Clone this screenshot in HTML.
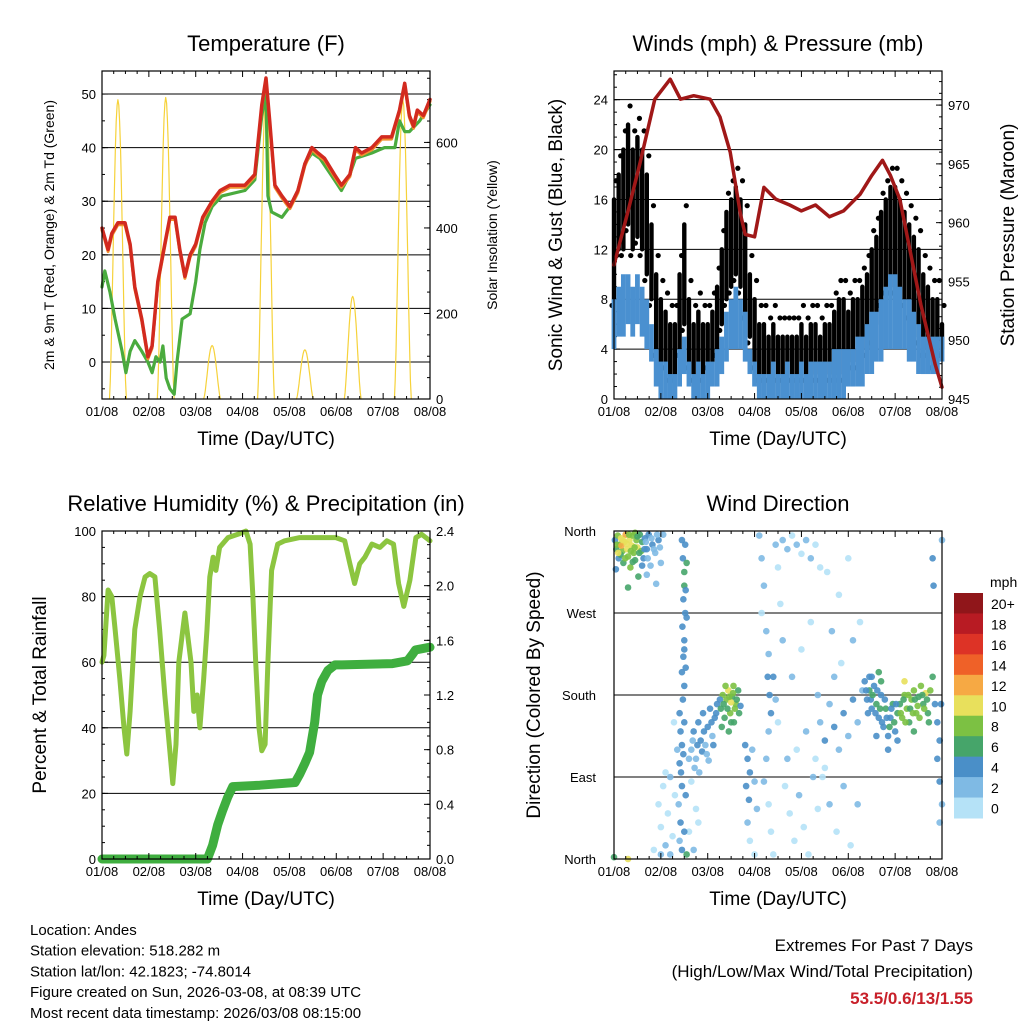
<!DOCTYPE html>
<html><head><meta charset="utf-8"><style>
body{margin:0;background:#fff}
svg text{font-family:"Liberation Sans",Arial,sans-serif;fill:#000}
</style></head><body>
<svg id="s" width="1024" height="1024" xmlns="http://www.w3.org/2000/svg"></svg>
<script>
// ---------- DATA ----------
const dayTicks=['01/08','02/08','03/08','04/08','05/08','06/08','07/08','08/08'];
const tempT=[0,0.13,0.21,0.34,0.49,0.6,0.7,0.85,0.98,1.07,1.19,1.34,1.45,1.56,1.66,1.77,1.88,2.0,2.15,2.35,2.52,2.73,3.05,3.26,3.41,3.5,3.58,3.69,3.84,4.01,4.18,4.33,4.48,4.61,4.75,4.96,5.11,5.29,5.41,5.54,5.76,5.97,6.18,6.35,6.46,6.56,6.65,6.73,6.86,7.0];
const tempRed=[25,21,24,26,26,22,14,8,1,3,15,22,27,27,21,16,20,22,27,30,32,33,33,35,48,53,45,33,31,29,32,37,40,39,38,35,33,35,40,39,40,42,42,47,52,46,44,47,46,49];
const dewT=[0,0.06,0.17,0.28,0.43,0.51,0.6,0.7,0.85,0.98,1.07,1.15,1.24,1.3,1.37,1.45,1.54,1.6,1.71,1.88,2.0,2.09,2.2,2.35,2.56,3.05,3.26,3.41,3.5,3.54,3.62,3.84,4.01,4.18,4.33,4.48,4.65,4.96,5.11,5.29,5.41,5.76,6.03,6.25,6.35,6.46,6.56,6.78,7.0];
const dewVal=[14,17,13,8,2,-2,2,4,2,0,-2,1,0,3,-3,-5,-6,0,8,9,15,21,26,29,31,32,34,46,50,31,28,27,29,32,37,39,38,34,32,35,38,39,40,40,45,43,43,45,48];
const solarPeakT=[0.34,1.36,2.35,3.5,4.33,5.35,6.42];
const solarPeak=[700,705,125,720,115,240,700];
const gustLo=[8,12,12,14,12,13,12,10,8,4,3,3,2,2,4,6,3,2,2,2,3,3,4,6,8,9,10,9,7,5,3,2,2,2,2,2,2,2,2,2,2,2,2,2,2,2,2,2,2,2,3,3,3,4,4,5,6,8,9,9,9,8,8,7,6,5,4,4,3,3,4];
const gustHi=[16,18,20,22,20,21,20,18,14,10,8,7,6,6,10,14,8,6,7,6,6,7,9,12,15,16,17,16,14,10,8,6,6,5,6,5,5,5,5,5,6,5,6,6,5,6,6,7,8,8,7,8,8,9,10,12,13,15,16,17,17,16,15,14,13,12,10,9,8,8,6];
const spdLo=[4,5,5,6,5,6,5,4,3,1,0,0,0,0,1,2,1,0,0,0,0,1,1,2,3,4,4,4,3,2,1,0,0,0,0,0,0,0,0,0,0,0,0,0,0,0,0,0,0,0,1,1,1,1,2,2,3,3,4,4,4,4,4,3,3,2,2,2,2,2,3];
const spdHi=[8,9,10,10,9,10,9,8,6,4,3,3,2,2,4,5,3,2,3,2,3,3,4,5,7,8,9,8,7,4,3,2,2,2,3,2,2,3,2,2,3,2,3,3,3,3,3,4,4,4,4,4,5,5,6,7,7,8,9,10,10,9,8,8,7,6,5,5,5,5,5];
const presT=[0,0.3,0.55,0.87,1.2,1.42,1.7,2.05,2.26,2.48,2.7,2.8,3.0,3.2,3.45,3.75,4.0,4.3,4.6,4.9,5.25,5.5,5.73,5.9,6.1,6.3,6.55,6.85,7.0];
const presVal=[956.4,961,965,970.5,972.2,970.5,970.8,970.5,969,966,960.7,959,958.8,963,962,961.5,961,961.5,960.5,961,962.4,964,965.3,964,962,958,953,948,946];
const rhT=[0,0.04,0.13,0.21,0.28,0.38,0.47,0.53,0.6,0.7,0.81,0.92,1.02,1.13,1.23,1.34,1.51,1.58,1.64,1.77,1.9,1.96,2.03,2.09,2.17,2.24,2.3,2.37,2.43,2.51,2.69,2.9,3.07,3.16,3.22,3.28,3.35,3.41,3.48,3.54,3.62,3.75,3.9,4.22,4.65,4.99,5.18,5.29,5.39,5.5,5.61,5.76,5.93,6.08,6.22,6.33,6.44,6.57,6.7,6.82,7.0];
const rhVal=[60,62,82,80,70,55,40,32,45,70,80,86,87,86,70,50,23,35,60,75,60,45,50,40,55,70,86,92,88,95,98,99,100,96,80,60,40,33,35,60,88,96,97,98,98,98,97,90,84,90,92,96,95,97,96,84,77,85,98,99,97];
const pcpT=[0,2.25,2.36,2.47,2.57,2.68,2.79,3.37,4.12,4.22,4.33,4.43,4.54,4.6,4.69,4.82,4.97,5.12,6.2,6.52,6.63,6.69,7.0];
const pcpVal=[0,0,0.1,0.25,0.35,0.45,0.53,0.54,0.56,0.62,0.7,0.78,1.0,1.2,1.3,1.38,1.42,1.42,1.43,1.45,1.5,1.53,1.55];
const windT=[0.02,0.05,0.08,0.1,0.12,0.15,0.18,0.2,0.22,0.25,0.28,0.3,0.33,0.35,0.38,0.4,0.42,0.45,0.48,0.5,0.52,0.55,0.58,0.6,0.63,0.66,0.7,0.74,0.78,0.82,0.88,0.95,1.0,1.05,0.3,0.04,0.9,0.7,0.14,0.45,
1.45,1.47,1.5,1.5,1.48,1.52,1.46,1.5,1.48,1.45,1.5,1.47,1.4,1.42,1.45,1.4,1.43,1.45,1.38,1.42,1.4,1.45,
0.95,1.0,1.05,1.1,1.15,1.2,1.25,1.3,1.0,1.1,1.6,1.7,1.75,1.65,1.8,1.55,1.2,0.85,1.35,1.28,
1.65,1.7,1.75,1.8,1.85,1.9,1.95,2.0,2.05,2.1,2.15,2.2,1.72,1.88,2.02,1.82,
2.28,2.32,2.36,2.4,2.44,2.48,2.52,2.56,2.6,2.65,2.3,2.45,2.55,2.7,2.5,
2.8,2.85,2.9,2.82,2.88,2.95,3.0,2.85,2.9,3.0,3.05,
3.1,3.15,3.2,3.15,3.25,3.3,3.28,3.32,3.35,3.3,3.25,3.2,3.3,3.35,3.4,3.45,3.5,3.4,3.45,3.5,
3.6,3.7,3.8,3.9,4.0,4.1,4.2,4.3,3.65,3.75,3.85,3.95,4.05,4.15,4.25,4.35,3.7,3.9,4.1,4.3,
4.4,4.5,4.6,4.7,4.8,4.9,5.0,5.1,5.2,5.3,4.45,4.6,4.75,4.9,5.05,5.2,4.55,4.8,5.0,4.65,
5.35,5.4,5.45,5.5,5.55,5.6,5.65,5.7,5.75,5.8,5.85,5.9,5.95,6.0,6.05,5.5,5.7,5.6,5.85,6.05,
6.1,6.15,6.2,6.25,6.3,6.35,6.4,6.45,6.5,6.55,6.6,6.65,6.7,6.2,6.4,
6.8,6.82,6.8,6.85,6.9,6.95,6.9,6.95,7.0,6.95,7.0,6.98,0.0,0.3];
const windDir=[350,340,355,330,345,352,338,325,348,356,340,332,350,320,344,355,336,328,350,342,310,356,338,348,330,352,340,356,322,345,336,350,325,356,298,318,302,312,334,358,
350,330,315,300,285,270,255,240,222,205,190,175,160,140,125,105,95,80,60,40,20,10,
60,35,80,15,50,5,25,70,5,95,30,10,55,85,40,5,90,10,120,150,
120,140,110,150,130,160,125,145,165,135,155,170,100,118,108,95,
165,180,155,175,185,160,178,150,170,185,145,140,190,168,172,
125,110,95,80,65,120,85,40,20,5,55,
355,330,300,270,250,225,200,180,160,140,110,85,60,30,5,345,320,200,175,150,
350,340,355,345,335,350,330,345,80,50,20,70,35,5,90,55,110,120,140,110,
150,130,170,145,120,160,135,175,150,185,90,60,30,80,15,60,315,290,330,250,
195,175,185,165,190,170,155,180,145,165,135,155,170,140,160,200,195,135,120,130,
170,155,180,165,150,175,185,160,178,190,170,182,160,195,140,
330,300,200,170,150,130,110,85,60,40,350,170,2,0];
const windSpd=[4,6,8,4,8,10,8,6,10,12,10,8,10,8,10,8,8,6,8,10,6,6,8,6,4,4,4,4,2,4,2,4,2,2,6,4,2,2,6,8,
4,4,6,6,4,4,4,4,4,4,4,4,4,4,4,4,4,4,2,4,2,4,
0,0,0,2,0,2,0,0,2,0,0,2,0,0,0,6,2,0,2,0,
2,4,2,4,4,4,2,4,4,2,4,4,2,4,2,2,
6,8,6,8,10,8,6,6,8,6,6,6,8,4,10,
4,4,4,4,4,2,2,2,0,0,2,
2,2,2,0,2,2,4,4,4,2,2,2,0,0,0,2,0,4,2,0,
2,2,0,2,0,2,2,0,0,0,0,2,0,0,2,0,2,0,2,0,
2,4,2,4,2,4,2,4,2,2,0,2,0,2,0,2,0,0,0,2,
4,4,6,4,4,6,4,4,4,6,4,4,6,4,6,4,6,4,4,4,
6,8,8,8,6,8,8,8,6,8,6,10,6,10,6,
4,4,6,4,4,4,4,4,2,2,2,4,6,10];
const windT2=[0.06,0.09,0.16,0.19,0.24,0.27,0.32,0.36,0.4,0.44,0.5,0.54,0.6,0.65,0.68,0.72,0.8,0.85,0.92,0.98,
1.52,1.55,1.53,1.55,1.5,1.53,1.5,1.48,1.53,1.5,
2.26,2.34,2.38,2.42,2.46,2.5,2.54,2.58,2.62,2.67,
1.68,1.78,1.92,1.98,2.08,2.12,2.18,1.6,
5.38,5.42,5.48,5.52,5.58,5.62,5.68,5.72,5.78,5.82,5.88,5.92,5.98,6.02,5.45,5.65,
6.12,6.18,6.22,6.28,6.32,6.38,6.42,6.48,6.52,6.58,6.62,6.68,6.72,6.75,
3.8,4.0,4.2,4.35,4.5,4.7,4.85,5.1,5.25,3.55,3.6,4.4];
const windDir2=[345,336,344,350,330,346,356,338,326,342,354,336,322,340,348,330,352,340,356,342,
345,325,295,265,230,210,150,115,70,30,
175,170,190,165,178,150,182,165,175,160,
130,125,140,115,150,125,160,110,
185,160,175,180,160,185,165,150,175,155,145,165,150,170,200,205,
160,175,150,180,165,160,175,168,155,180,165,175,150,185,
200,230,260,180,100,200,215,240,260,280,240,320];
const windSpd2=[8,10,12,10,8,10,8,8,6,8,6,6,4,4,2,2,2,2,2,2,
4,6,4,4,4,4,4,4,4,4,
4,6,8,6,8,6,8,8,6,6,
2,4,4,2,4,4,4,2,
4,4,4,6,4,4,6,4,4,4,6,4,6,4,4,6,
8,6,8,8,6,8,6,8,8,6,8,6,6,8,
2,0,0,2,0,2,0,2,0,0,2,0];
const speedLabels=['20+','18','16','14','12','10','8','6','4','2','0'];
// ---------- DRAWING ----------
const S=document.getElementById('s');const NS='http://www.w3.org/2000/svg';
function el(tag,at,parent){const e=document.createElementNS(NS,tag);for(const k in at)e.setAttribute(k,at[k]);(parent||S).appendChild(e);return e;}
function txt(x,y,s,size,anchor,rot,extra){const e=el('text',Object.assign({x:x,y:y,'font-size':size,'text-anchor':anchor||'middle'},extra||{}));if(rot)e.setAttribute('transform','rotate(-90 '+x+' '+y+')');e.textContent=s;return e;}
function line(x1,y1,x2,y2,c,w){return el('line',{x1:x1,y1:y1,x2:x2,y2:y2,stroke:c,'stroke-width':w});}
function poly(xs,ys,fx,fy,c,w,name){const p=el('polyline',{points:xs.map((v,i)=>fx(v).toFixed(1)+','+fy(ys[i]).toFixed(1)).join(' '),fill:'none',stroke:c,'stroke-width':w,'stroke-linejoin':'round','stroke-linecap':'round'});

return p;}
const W=328,H=328;
function frame(x0,y0,title,name){
 const g=el('rect',{x:x0,y:y0,width:W,height:H,fill:'none',stroke:'#000','stroke-width':1.2});
 
 
 const t=txt(x0+W/2,y0-20,title,22);
 
 
 dayTicks.forEach((d,i)=>{const x=x0+i*W/7;line(x,y0+H,x,y0+H-6,'#000',1);line(x,y0,x,y0+6,'#000',1);
  const l=txt(x,y0+H+17,d,13);
  
  
  if(i<7)for(let k=1;k<4;k++){const xm=x+k*W/28;line(xm,y0+H,xm,y0+H-3,'#000',1);line(xm,y0,xm,y0+3,'#000',1);}});
 const xt=txt(x0+W/2,y0+H+46,'Time (Day/UTC)',19);
 
 
}
function yaxis(x0,y0,min,max,ticks,fmt,side,grid,minor){
 const f=v=>y0+H-(v-min)/(max-min)*H;
 ticks.forEach(v=>{const y=f(v);if(grid&&y>y0+1&&y<y0+H-1)line(x0,y,x0+W,y,'#000',1);
  const xx=side==='l'?x0:x0+W;line(xx,y,side==='l'?xx+6:xx-6,y,'#000',1);
  const l=txt(side==='l'?xx-6:xx+6,y+5,fmt(v),13,side==='l'?'end':'start');
  
  });
 if(minor)minor.forEach(v=>{const y=f(v);if(y<y0||y>y0+H)return;const xx=side==='l'?x0:x0+W;line(xx,y,side==='l'?xx+3:xx-3,y,'#000',1);});
 return f;}
function rng(a,b,s){const r=[];for(let v=a;v<=b+1e-9;v+=s)r.push(+v.toFixed(3));return r;}
// Panel 1 Temperature
{const x0=102,y0=71;const fx=t=>x0+t*W/7;
 const fT=yaxis(x0,y0,-6.9,54.3,[0,10,20,30,40,50],v=>v,'l',true,rng(-5,50,5));
 const fS=yaxis(x0,y0,0,767,[0,200,400,600],v=>v,'r',false,rng(0,750,50));
 solarPeakT.forEach((c,i)=>{const xs=[],ys=[];for(let k=0;k<=20;k++){const t=c-0.18+k*0.018;xs.push(t);ys.push(solarPeak[i]*Math.pow(Math.sin(Math.PI*k/20),1.5));}
  poly(xs,ys,fx,fS,'#f6d23a',1.2,'solar-insolation-day-'+(i+1));});
 poly(dewT,dewVal,fx,fT,'#4aab3e',3.2,'dewpoint-2m-line');
 poly(tempT,tempRed.map(v=>v-0.4),fx,fT,'#f0902e',3,'temp-9m-line');
 poly(tempT,tempRed,fx,fT,'#d22a1f',3.5,'temp-2m-line');
 frame(x0,y0,'Temperature (F)','temperature-panel');
 let a=txt(54,235,'2m & 9m T (Red, Orange) & 2m Td (Green)',14,'middle',true);
 a=txt(497,235,'Solar Insolation (Yellow)',14,'middle',true);}
// Panel 2 Winds
{const x0=614,y0=71;const fx=t=>x0+t*W/7;
 const fW=yaxis(x0,y0,0,26.3,[0,4,8,12,16,20,24],v=>v,'l',true,rng(1,26,1));
 const fP=yaxis(x0,y0,945,972.9,[945,950,955,960,965,970],v=>v,'r',false,rng(946,972,1));
 gustLo.forEach((lo,i)=>{const x=fx(i*0.1);const b=line(x,fW(lo),x,fW(gustHi[i]),'#000',4.4);b.setAttribute('stroke-linecap','round');
  
  
  [lo,gustHi[i]].forEach((v,j)=>{const c=el('circle',{cx:x+(j?2:-2),cy:fW(v+(j?1.5:-0.5)),r:2.6,fill:'#000'});
  
  });});
 spdLo.forEach((lo,i)=>{const x=fx(i*0.1);const b=line(x,fW(lo),x,fW(spdHi[i]),'#4a90d0',4.8);
  
  });
 poly(presT,presVal,fx,fP,'#a01818',3.5,'pressure-line');
 frame(x0,y0,'Winds (mph) & Pressure (mb)','winds-panel');
 let a=txt(562,235,'Sonic Wind & Gust (Blue, Black)',19,'middle',true);
 a=txt(1014,235,'Station Pressure (Maroon)',19,'middle',true);}
// Panel 3 RH & precip
{const x0=102,y0=531;const fx=t=>x0+t*W/7;
 const fR=yaxis(x0,y0,0,100,[0,20,40,60,80,100],v=>v,'l',true,rng(0,100,5));
 const fPc=yaxis(x0,y0,0,2.4,[0,0.4,0.8,1.2,1.6,2.0,2.4],v=>v.toFixed(1),'r',false,rng(0,2.4,0.1));
 poly(rhT,rhVal,fx,fR,'#8cc540',5,'relative-humidity-line');
 poly(pcpT,pcpVal,fx,fPc,'#3fae3f',9,'precipitation-line');
 frame(x0,y0,'Relative Humidity (%) & Precipitation (in)','humidity-panel');
 let a=txt(46,695,'Percent & Total Rainfall',19,'middle',true);}
// Panel 4 wind direction
const cols=['#b5e2f7','#7fbae4','#4a8fc8','#46a56a','#7cc143','#e8e05c','#f6a944','#ef6128','#dd3326','#b81b23','#90161a'];
{const x0=614,y0=531;const fx=t=>x0+t*W/7;const fD=d=>y0+H-d/360*H;
 [[360,'North'],[270,'West'],[180,'South'],[90,'East'],[0,'North']].forEach(([d,n])=>{const y=fD(d);if(d>0&&d<360)line(x0,y,x0+W,y,'#000',1);line(x0,y,x0+6,y,'#000',1);
  const l=txt(x0-18,y+5,n,13,'end');});
 const allT=windT.concat(windT2),allD=windDir.concat(windDir2),allS=windSpd.concat(windSpd2);
 allT.forEach((t,i)=>{const c=el('circle',{cx:fx(t),cy:fD(allD[i]),r:3.3,fill:cols[Math.min(10,Math.floor(allS[i]/2))],opacity:0.9});
  
  });
 frame(x0,y0,'Wind Direction','wind-direction-panel');
 let a=txt(540,695,'Direction (Colored By Speed)',19,'middle',true);
 speedLabels.forEach((l,i)=>{const y=593+i*225/11;const r=el('rect',{x:954,y:y,width:29,height:225/11+0.5,fill:cols[10-i]});
  
  
  const t=txt(991,y+16,l,14,'start');});
 a=txt(990,587,'mph',14,'start');}
['Location: Andes','Station elevation: 518.282 m','Station lat/lon: 42.1823; -74.8014','Figure created on Sun, 2026-03-08, at 08:39 UTC','Most recent data timestamp: 2026/03/08 08:15:00'].forEach((s,i)=>{const t=txt(30,935+i*20.7,s,15,'start');
 
 });
let f=txt(973,951,'Extremes For Past 7 Days',17,'end');
f=txt(973,977,'(High/Low/Max Wind/Total Precipitation)',17,'end');
f=txt(973,1004,'53.5/0.6/13/1.55',17,'end',false,{'font-weight':'bold',style:'fill:#c8202a'});
</script>
</body></html>
